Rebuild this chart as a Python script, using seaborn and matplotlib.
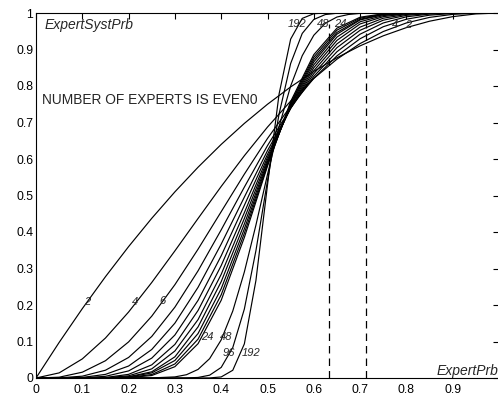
import matplotlib
matplotlib.use("Agg")
import matplotlib.pyplot as plt
import seaborn as sns
import pandas as pd

# ---- data ----
P_GRID = [0, .05, .1, .15, .2, .25, .3, .35, .4, .45, .5, .55, .6, .65, .7, .75, .8, .85, .9, .95, 1]
Y_N2 = [0, .0975, .19, .2775, .36, .4375, .51, .5775, .64, .6975, .75, .7975, .84, .8775, .91, .9375, .96, .9775, .99, .9975, 1]
Y_N4 = [0, .014, .0523, .1095, .1808, .2617, .3483, .437, .5248, .609, .6875, .7585, .8208, .8735, .9163, .9492, .9728, .988, .9963, .9995, 1]
Y_N6 = [0, .0022, .0159, .0473, .0989, .1694, .2557, .3529, .4557, .5585, .6563, .7448, .8208, .8826, .9295, .9624, .983, .9941, .9987, .9999, 1]
Y_N8 = [0, .0004, .005, .0213, .0563, .1138, .1941, .2936, .4059, .523, .6367, .7396, .8263, .8939, .942, .9727, .9896, .9971, .9996, 1, 1]
Y_N10 = [0, .0001, .0016, .0099, .0328, .0781, .1503, .2485, .3669, .4956, .623, .7384, .8338, .9051, .9527, .9803, .9936, .9986, .9999, 1, 1]
Y_N12 = [0, 0, .0005, .0046, .0194, .0544, .1178, .2127, .3348, .4731, .6128, .7393, .8418, .9154, .9614, .9857, .9961, .9993, 1, 1, 1]
Y_N14 = [0, 0, 0, .0013, .01, .036, .092, .185, .308, .453, .605, .741, .85, .925, .97, .99, .998, .9998, 1, 1, 1]
Y_N16 = [0, 0, 0, .0005, .006, .025, .074, .16, .284, .437, .5982, .744, .858, .934, .976, .993, .9985, 1, 1, 1, 1]
Y_N18 = [0, 0, 0, .0002, .0035, .017, .058, .14, .264, .422, .5927, .747, .866, .942, .981, .9955, .9993, 1, 1, 1, 1]
Y_N20 = [0, 0, 0, .0001, .0026, .0139, .048, .1218, .2447, .4086, .5881, .7507, .8725, .9468, .9829, .9961, .9994, 1, 1, 1, 1]
Y_N22 = [0, 0, 0, 0, .0015, .0095, .0385, .1065, .228, .3965, .5841, .754, .879, .953, .986, .997, .9997, 1, 1, 1, 1]
Y_N24 = [0, 0, 0, 0, .0009, .0068, .031, .094, .213, .385, .5806, .7575, .886, .9585, .9885, .9978, .9998, 1, 1, 1, 1]

P_FINE = [0, .2, .25, .3, .325, .35, .375, .4, .425, .45, .475, .5, .525, .55, .575, .6, .625, .65, .675, .7, .75, .8, 1]
Y_N48 = [0, 0, .0003, .003, .009, .0235, .053, .1045, .1835, .2905, .419, .5576, .689, .8, .883, .939, .972, .989, .996, .999, 1, 1, 1]
Y_N96 = [0, 0, 0, 0, .0002, .0015, .0077, .029, .0833, .1889, .3489, .5407, .7233, .8616, .944, .9823, .9958, .9993, 1, 1, 1, 1, 1]
Y_N192 = [0, 0, 0, 0, 0, 0, .0002, .0029, .0212, .0934, .2672, .5288, .7781, .9285, .9852, .9981, .9999, 1, 1, 1, 1, 1, 1]

DASHED_X = [0.633, 0.712]
DASHED_TOP = [0.97, 0.988]

LABELS_BOTTOM = ["2", "4", "6", "24", "48", "96", "192"]
LABELS_BOTTOM_X = [0.110, 0.214, 0.274, 0.370, 0.410, 0.417, 0.464]
LABELS_BOTTOM_Y = [0.208, 0.208, 0.211, 0.112, 0.112, 0.068, 0.068]
LABELS_TOP = ["192", "48", "24", "4", "2"]
LABELS_TOP_X = [0.564, 0.620, 0.657, 0.775, 0.803]
LABELS_TOP_Y = [0.970, 0.970, 0.970, 0.967, 0.967]

# ---- build long table ----
curves_coarse = {2: Y_N2, 4: Y_N4, 6: Y_N6, 8: Y_N8, 10: Y_N10, 12: Y_N12, 14: Y_N14,
                 16: Y_N16, 18: Y_N18, 20: Y_N20, 22: Y_N22, 24: Y_N24}
curves_fine = {48: Y_N48, 96: Y_N96, 192: Y_N192}
rows = []
for n, ys in curves_coarse.items():
    for p, y in zip(P_GRID, ys):
        rows.append((n, p, y))
for n, ys in curves_fine.items():
    for p, y in zip(P_FINE, ys):
        rows.append((n, p, y))
df = pd.DataFrame(rows, columns=["n", "ExpertPrb", "ExpertSystPrb"])

sns.set_style("white")
plt.rcParams['font.family'] = ['Liberation Sans', 'DejaVu Sans']

fig = plt.figure(figsize=(4.98, 4.0), dpi=100)
ax = fig.add_axes([36 / 498, 22 / 400, 463 / 498, 365 / 400])

sns.lineplot(data=df, x="ExpertPrb", y="ExpertSystPrb", units="n", estimator=None,
             color="black", linewidth=0.85, ax=ax, legend=False)

for xv, top in zip(DASHED_X, DASHED_TOP):
    ax.plot([xv, xv], [0, top], color="black", linestyle=(0, (6, 4)), linewidth=0.9)

for t, x, y in zip(LABELS_BOTTOM, LABELS_BOTTOM_X, LABELS_BOTTOM_Y):
    ax.text(x, y, t, fontsize=8, style="italic", ha="center", va="center")
for t, x, y in zip(LABELS_TOP, LABELS_TOP_X, LABELS_TOP_Y):
    ax.text(x, y, t, fontsize=8, style="italic", ha="center", va="center")

ax.text(0.018, 0.967, "ExpertSystPrb", fontsize=10, style="italic", ha="left", va="center")
ax.text(0.866, 0.018, "ExpertPrb", fontsize=10, style="italic", ha="left", va="center")
ax.text(0.012, 0.762, "NUMBER OF EXPERTS IS EVEN0", fontsize=9.9, ha="left", va="center")

ax.set_xlim(0, 1)
ax.set_ylim(0, 1)
ax.set_xticks([i / 10 for i in range(11)])
ax.set_xticklabels(["0", "0.1", "0.2", "0.3", "0.4", "0.5", "0.6", "0.7", "0.8", "0.9", ""])
ax.set_yticks([i / 10 for i in range(11)])
ax.set_yticklabels(["0", "0.1", "0.2", "0.3", "0.4", "0.5", "0.6", "0.7", "0.8", "0.9", "1"])
ax.tick_params(direction="in", length=4, width=0.8, top=True, right=True,
               labelsize=8.8, colors="black")
ax.tick_params(axis="x", pad=4)
ax.tick_params(axis="y", pad=2)
ax.set_xlabel("")
ax.set_ylabel("")
for s in ax.spines.values():
    s.set_color("black")
    s.set_linewidth(0.8)

fig.savefig("out.png", dpi=100, facecolor="white")
